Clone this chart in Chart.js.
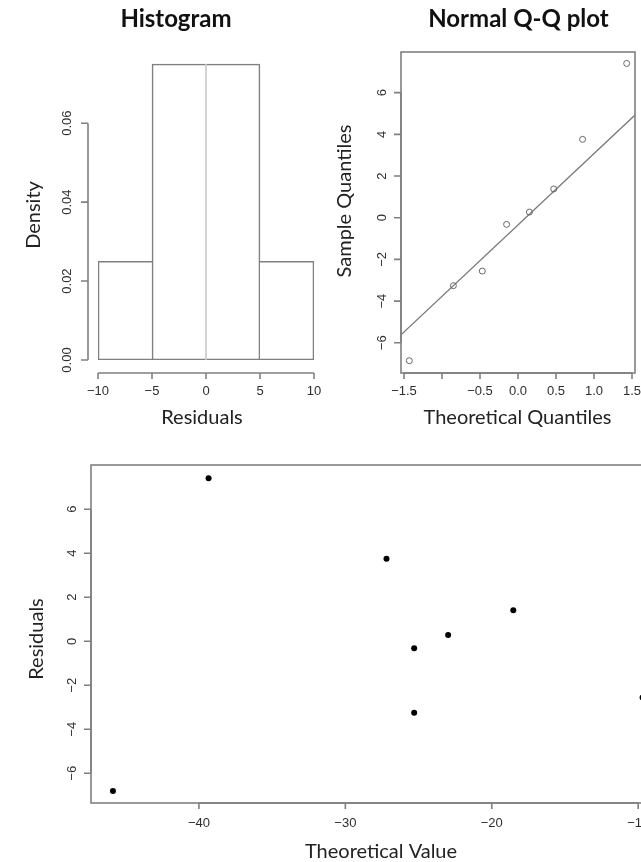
<!DOCTYPE html>
<html><head><meta charset="utf-8">
<script src="https://cdn.jsdelivr.net/npm/chart.js@4.4.1/dist/chart.umd.min.js"></script>
<style>
html,body{margin:0;padding:0;background:#fff;overflow:hidden;}
#wrap{position:relative;width:641px;height:862px;overflow:hidden;background:#fff;}
canvas{position:absolute;}
</style></head><body>
<div id="wrap">
<canvas id="cHist" width="330" height="430" style="left:0;top:0"></canvas>
<canvas id="cQQ" width="321" height="430" style="left:320px;top:0"></canvas>
<canvas id="cRes" width="720" height="432" style="left:0;top:430px"></canvas>
</div>
<script>
// ---------- data ----------
// Histogram of residuals
const histBinStart = [-10, -5, 0, 5];
const histBinEnd = [-5, 0, 5, 10];
const histDensity = [0.025, 0.075, 0.075, 0.025];
const histRefLineX = [0, 0];
const histRefLineY = [0, 0.075];
const histTickX = [-10, -5, 0, 5, 10];
const histTickXLabels = ["\u221210", "\u22125", "0", "5", "10"];
const histTickY = [0, 0.02, 0.04, 0.06];
const histTickYLabels = ["0.00", "0.02", "0.04", "0.06"];

// Normal Q-Q plot
const qqTheoretical = [-1.43, -0.85, -0.47, -0.15, 0.15, 0.47, 0.85, 1.43];
const qqSample = [-6.86, -3.26, -2.56, -0.32, 0.27, 1.38, 3.76, 7.40];
const qqLineX = [-1.54, 1.54];
const qqLineY = [-5.62, 4.93];
const qqTickX = [-1.5, -1.0, -0.5, 0.0, 0.5, 1.0, 1.5];
const qqTickXLabels = ["\u22121.5", "", "\u22120.5", "0.0", "0.5", "1.0", "1.5"];
const qqTickY = [-6, -4, -2, 0, 2, 4, 6];
const qqTickYLabels = ["\u22126", "\u22124", "\u22122", "0", "2", "4", "6"];

// Residuals vs theoretical value
const resTheoretical = [-45.87, -39.34, -27.19, -25.30, -25.30, -22.98, -18.53, -9.7];
const resResiduals = [-6.80, 7.41, 3.75, -0.32, -3.25, 0.29, 1.41, -2.56];
const resTickX = [-40, -30, -20, -10];
const resTickXLabels = ["\u221240", "\u221230", "\u221220", "\u221210"];
const resTickY = [-6, -4, -2, 0, 2, 4, 6];
const resTickYLabels = ["\u22126", "\u22124", "\u22122", "0", "2", "4", "6"];

// ---------- R-style axes / text plugin ----------
const AXIS_COLOR = '#808080';
const TICK_FONT = '13px "Liberation Sans", Arial, sans-serif';
const LAB_FONT = '20px Lato, "Open Sans", sans-serif';
const TITLE_FONT = 'bold 24px Lato, "Open Sans", sans-serif';

function makeR(cfg) {
  return {
    id: 'rPlot',
    afterDatasetsDraw(chart) {
      const ctx = chart.ctx, ca = chart.chartArea;
      const xs = chart.scales.x, ys = chart.scales.y;
      ctx.save();
      ctx.strokeStyle = AXIS_COLOR;
      ctx.lineWidth = 1.6;
      if (cfg.box) ctx.strokeRect(ca.left, ca.top, ca.right - ca.left, ca.bottom - ca.top);
      // x axis
      const ax = cfg.xAxis;
      const yl = ca.bottom + ax.offset;
      const px = ax.ticks.map(v => xs.getPixelForValue(v));
      ctx.beginPath();
      ctx.moveTo(px[0], yl); ctx.lineTo(px[px.length - 1], yl);
      px.forEach(p => { ctx.moveTo(p, yl); ctx.lineTo(p, yl + 6); });
      ctx.stroke();
      ctx.fillStyle = '#2e2e2e';
      ctx.font = TICK_FONT;
      ctx.textAlign = 'center';
      ctx.textBaseline = 'middle';
      px.forEach((p, i) => ctx.fillText(ax.labels[i], p, ax.labelY));
      // y axis
      const ay = cfg.yAxis;
      const xl = ca.left - ay.offset;
      const py = ay.ticks.map(v => ys.getPixelForValue(v));
      ctx.beginPath();
      ctx.moveTo(xl, py[0]); ctx.lineTo(xl, py[py.length - 1]);
      py.forEach(p => { ctx.moveTo(xl, p); ctx.lineTo(xl - 7, p); });
      ctx.stroke();
      py.forEach((p, i) => {
        ctx.save(); ctx.translate(ay.labelX, p); ctx.rotate(-Math.PI / 2);
        ctx.fillText(ay.labels[i], 0, 0); ctx.restore();
      });
      // texts
      ctx.textBaseline = 'alphabetic';
      cfg.texts.forEach(t => {
        ctx.save();
        ctx.font = t.font; ctx.fillStyle = t.color || '#222';
        ctx.translate(t.x, t.y);
        if (t.rotate) ctx.rotate(-Math.PI / 2);
        ctx.fillText(t.text, 0, 0);
        ctx.restore();
      });
      ctx.restore();
    }
  };
}

const baseOpts = (padding, xmin, xmax, ymin, ymax) => ({
  responsive: false, animation: false, events: [],
  layout: { padding },
  plugins: { legend: { display: false }, tooltip: { enabled: false }, title: { display: false } },
  scales: {
    x: { type: 'linear', min: xmin, max: xmax, offset: false, display: false },
    y: { type: 'linear', min: ymin, max: ymax, display: false }
  }
});

// ---------- Histogram ----------
const BW = 1.6;
const histBorders = [
  { top: BW, left: BW, bottom: BW, right: 0 },
  { top: BW, left: BW, bottom: BW, right: 0 },
  { top: BW, left: 0, bottom: BW, right: BW },
  { top: BW, left: 0, bottom: BW, right: BW }
];
new Chart(document.getElementById('cHist'), {
  type: 'bar',
  data: {
    datasets: [
      { type: 'line', order: 0,
        data: histRefLineX.map((x, i) => ({ x, y: histRefLineY[i] })),
        borderColor: '#c8c8c8', borderWidth: 1.6, pointRadius: 0 },
      { type: 'bar', order: 1,
        data: histBinStart.map((s, i) => ({ x: (s + histBinEnd[i]) / 2, y: histDensity[i] })),
        backgroundColor: '#ffffff', borderColor: AXIS_COLOR,
        borderWidth: c => histBorders[c.dataIndex], borderSkipped: false,
        barPercentage: 1, categoryPercentage: 1 }
    ]
  },
  options: baseOpts({ left: 98, right: 16, top: 62, bottom: 70 }, -10, 10, 0, 0.0755),
  plugins: [makeR({
    box: false,
    xAxis: { ticks: histTickX, labels: histTickXLabels, offset: 13, labelY: 391 },
    yAxis: { ticks: histTickY, labels: histTickYLabels, offset: 10, labelX: 67 },
    texts: [
      { text: 'Histogram', x: 176, y: 27, font: TITLE_FONT, color: '#111' },
      { text: 'Density', x: 40, y: 215, font: LAB_FONT, rotate: true },
      { text: 'Residuals', x: 202, y: 424, font: LAB_FONT }
    ]
  })]
});

// ---------- Normal Q-Q plot ----------
new Chart(document.getElementById('cQQ'), {
  type: 'scatter',
  data: {
    datasets: [
      { data: qqTheoretical.map((x, i) => ({ x, y: qqSample[i] })),
        pointRadius: 3, pointBorderWidth: 1, pointBorderColor: '#666',
        pointBackgroundColor: 'rgba(0,0,0,0)' },
      { data: qqLineX.map((x, i) => ({ x, y: qqLineY[i] })), showLine: true,
        pointRadius: 0, borderColor: '#777', borderWidth: 1.3 }
    ]
  },
  options: baseOpts({ left: 81, right: 6, top: 52, bottom: 57 }, -1.5395, 1.5395, -7.45, 7.95),
  plugins: [makeR({
    box: true,
    xAxis: { ticks: qqTickX, labels: qqTickXLabels, offset: 0, labelY: 391 },
    yAxis: { ticks: qqTickY, labels: qqTickYLabels, offset: 0, labelX: 62 },
    texts: [
      { text: 'Normal Q-Q plot', x: 198.5, y: 27, font: TITLE_FONT, color: '#111' },
      { text: 'Sample Quantiles', x: 31, y: 201, font: LAB_FONT, rotate: true },
      { text: 'Theoretical Quantiles', x: 197.5, y: 424, font: LAB_FONT }
    ]
  })]
});

// ---------- Residuals vs theoretical value ----------
new Chart(document.getElementById('cRes'), {
  type: 'scatter',
  data: {
    datasets: [
      { data: resTheoretical.map((x, i) => ({ x, y: resResiduals[i] })),
        pointRadius: 3, pointBorderWidth: 0, pointBackgroundColor: '#000', pointBorderColor: '#000' }
    ]
  },
  options: baseOpts({ left: 91, right: 49, top: 35, bottom: 59 }, -47.37, -7.76, -7.35, 8.01),
  plugins: [makeR({
    box: true,
    xAxis: { ticks: resTickX, labels: resTickXLabels, offset: 0, labelY: 393 },
    yAxis: { ticks: resTickY, labels: resTickYLabels, offset: 0, labelX: 72 },
    texts: [
      { text: 'Residuals', x: 43, y: 209, font: LAB_FONT, rotate: true },
      { text: 'Theoretical Value', x: 381, y: 428, font: LAB_FONT }
    ]
  })]
});
</script>
</body></html>
